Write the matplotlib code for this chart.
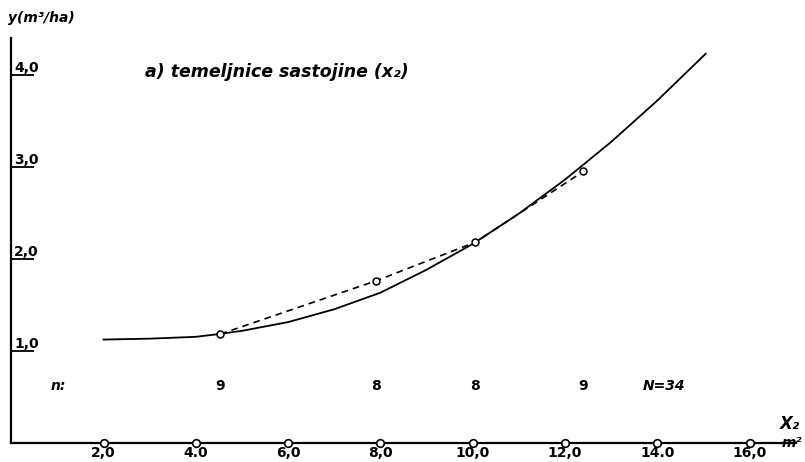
import numpy as np
import matplotlib.pyplot as plt

# smooth regression curve
curve_x = [2.0, 3.0, 4.0, 4.5, 5.0, 6.0, 7.0, 8.0, 9.0, 10.0, 11.0, 12.0, 13.0, 14.0, 15.05]
curve_y = [1.12, 1.13, 1.15, 1.18, 1.215, 1.31, 1.45, 1.63, 1.88, 2.16, 2.49, 2.86, 3.27, 3.72, 4.23]

# class means (circles joined by the dashed line)
mean_x = [4.53, 7.91, 10.06, 12.40]
mean_y = [1.18, 1.76, 2.18, 2.95]
n_counts = ["9", "8", "8", "9"]
n_total = 34

xticks = [2, 4, 6, 8, 10, 12, 14, 16]
xlabels = ["2,0", "4.0", "6,0", "8,0", "10,0", "12,0", "14.0", "16,0"]
yticks = [1, 2, 3, 4]
ylabels = ["1,0", "2,0", "3,0", "4,0"]

fig = plt.figure(figsize=(8.05, 4.62), dpi=100)
ax = fig.add_axes([0.0140, 0.0422, 0.9744, 0.8753])

ax.plot(curve_x, curve_y, "-", color="black", lw=1.3)
ax.plot(mean_x, mean_y, "--", color="black", lw=1.2, dashes=(4, 3))
ax.plot(mean_x, mean_y, "o", ms=5, mfc="white", mec="black", mew=1.1, zorder=5)

# small circles marking the x-axis divisions
ax.plot(xticks, [0] * len(xticks), "o", ms=5.5, mfc="white", mec="black", mew=1.2,
        clip_on=False, zorder=6)

ax.set_xlim(0, 17)
ax.set_ylim(0, 4.4)

for s in ["top", "right"]:
    ax.spines[s].set_visible(False)
for s in ["left", "bottom"]:
    ax.spines[s].set_linewidth(1.6)

ax.set_xticks(xticks)
ax.set_xticklabels(xlabels, fontsize=10, fontweight="bold")
ax.tick_params(axis="x", length=0, pad=2.5)

ax.set_yticks(yticks)
ax.set_yticklabels(ylabels, fontsize=10, fontweight="bold")
ax.tick_params(axis="y", direction="in", length=16.5, width=1.3, pad=-2)
for lbl in ax.get_yticklabels():
    lbl.set_horizontalalignment("left")
    lbl.set_verticalalignment("bottom")

# sample sizes per class
ax.text(0.85, 0.62, "n:", fontsize=10, fontweight="bold", style="italic",
        ha="left", va="center")
for x, n in zip(mean_x, n_counts):
    ax.text(x, 0.62, n, fontsize=10, fontweight="bold", ha="center", va="center")
ax.text(14.15, 0.62, "N={}".format(n_total), fontsize=10, fontweight="bold",
        style="italic", ha="center", va="center")

ax.text(2.9, 4.03, "a) temeljnice sastojine (x\u2082)", fontsize=12.5, fontweight="bold",
        style="italic", ha="left", va="center")

fig.text(0.010, 0.962, "y(m\u00b3/ha)", fontsize=10, fontweight="bold", style="italic",
         ha="left", va="center")
fig.text(0.994, 0.082, "X\u2082", fontsize=12, fontweight="bold", style="italic",
         ha="right", va="center")
fig.text(0.997, 0.042, "m\u00b2", fontsize=10, fontweight="bold", style="italic",
         ha="right", va="center")

plt.savefig("out.png", dpi=100)
